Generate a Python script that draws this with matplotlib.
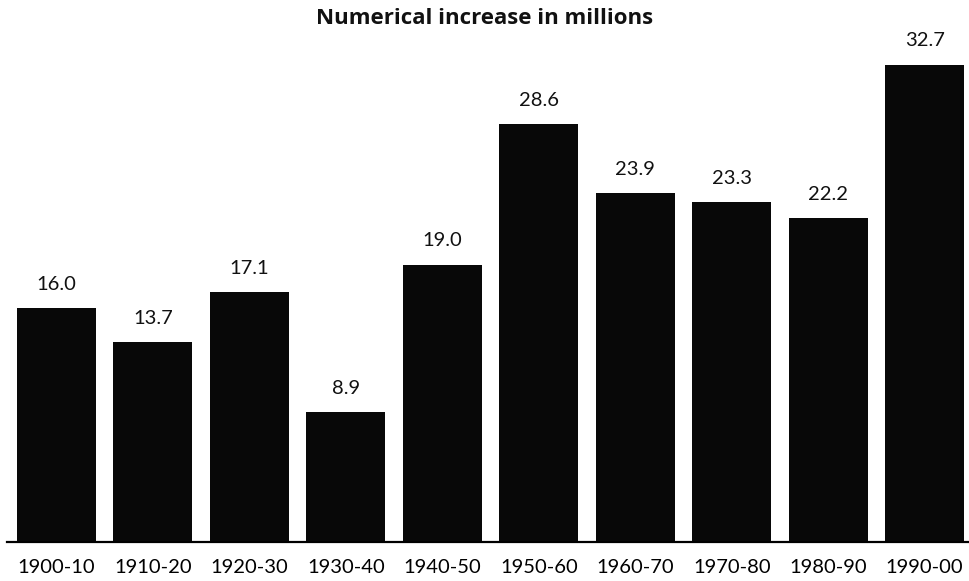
import matplotlib
matplotlib.use("Agg")
import matplotlib.pyplot as plt

decades = ["1900-10", "1910-20", "1920-30", "1930-40", "1940-50",
           "1950-60", "1960-70", "1970-80", "1980-90", "1990-00"]
increase = [16.0, 13.7, 17.1, 8.9, 19.0, 28.6, 23.9, 23.3, 22.2, 32.7]

plt.rcParams["font.family"] = ["Lato", "DejaVu Sans"]

fig = plt.figure(figsize=(9.70, 5.81), dpi=100)
ax = fig.add_axes([0.0072, 0.0671, 0.9928, 0.8795])

x = list(range(len(decades)))
bars = ax.bar(x, increase, width=0.82, color="#080808", edgecolor="none")

for xi, v in zip(x, increase):
    ax.annotate(f"{v:.1f}", (xi, v), xytext=(0, 11), textcoords="offset points",
                ha="center", va="bottom", fontsize=14.5, color="#111111")

ax.set_xlim(-0.513, 9.47)
ax.set_ylim(0, 35)
ax.set_xticks(x)
ax.set_xticklabels(decades, fontsize=14.5)
ax.tick_params(axis="x", length=0, pad=12)
ax.set_yticks([])
for side in ("top", "right", "left"):
    ax.spines[side].set_visible(False)
ax.spines["bottom"].set_linewidth(1.6)

fig.text(0.5, 1 - 19 / 581, "Numerical increase in millions", ha="center",
         va="center", fontsize=16, fontweight="bold", color="#111111",
         family=["Open Sans", "DejaVu Sans"])

fig.savefig("out.png", dpi=100)
